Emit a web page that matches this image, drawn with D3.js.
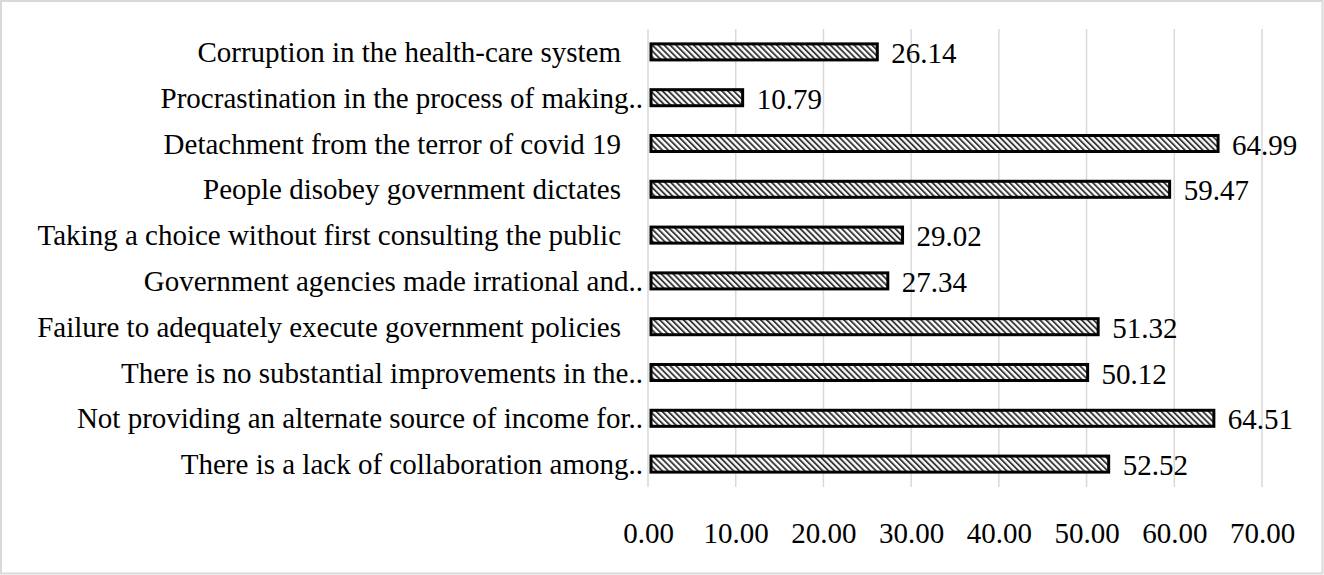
<!DOCTYPE html>
<html>
<head>
<meta charset="utf-8">
<script src="https://cdn.jsdelivr.net/npm/d3@7"></script>
<style>
  html, body { margin: 0; padding: 0; background: #fff; }
  svg text { font-family: "Liberation Serif", "Times New Roman", serif; fill: #000; }
</style>
</head>
<body>
<div id="chart"></div>
<script>
const width = 1324, height = 575;

// categories, top to bottom
const categories = [
    'Corruption in the health-care system',
    'Procrastination in the process of making..',
    'Detachment from the terror of covid 19',
    'People disobey government dictates',
    'Taking a choice without first consulting the public',
    'Government agencies made irrational and..',
    'Failure to adequately execute government policies',
    'There is no substantial improvements in the..',
    'Not providing an alternate source of income for..',
    'There is a lack of collaboration among..'
];
const values = [26.14, 10.79, 64.99, 59.47, 29.02, 27.34, 51.32, 50.12, 64.51, 52.52];
const xTicks = [0, 10, 20, 30, 40, 50, 60, 70];

const plot = { left: 648, right: 1262, top: 29, bottom: 487 };
const fontSize = 29;

const svg = d3.select('#chart')
    .append('svg')
    .attr('width', width)
    .attr('height', height);

// hatch pattern for the bars
const defs = svg.append('defs');
const pat = defs.append('pattern')
    .attr('id', 'hatch')
    .attr('patternUnits', 'userSpaceOnUse')
    .attr('width', 4.2)
    .attr('height', 4.2)
    .attr('patternTransform', 'rotate(-45)');
pat.append('rect').attr('width', 4.2).attr('height', 4.2).attr('fill', '#fff');
pat.append('rect').attr('width', 1.9).attr('height', 4.2).attr('fill', '#3a3a3a');

// outer border
svg.append('rect')
    .attr('x', 1).attr('y', 1)
    .attr('width', width - 2.5).attr('height', height - 2.5)
    .attr('fill', 'none')
    .attr('stroke', '#d9d9d9')
    .attr('stroke-width', 2);

const x = d3.scaleLinear()
    .domain([0, 70])
    .range([plot.left, plot.right]);

const y = d3.scaleBand()
    .domain(categories)
    .range([plot.top, plot.bottom])
    .paddingInner(0.65)
    .paddingOuter(0.325);

// gridlines
svg.append('g')
    .selectAll('line')
    .data(xTicks)
    .enter().append('line')
    .attr('x1', d => x(d)).attr('x2', d => x(d))
    .attr('y1', plot.top).attr('y2', plot.bottom)
    .attr('stroke', '#d9d9d9')
    .attr('stroke-width', 1.5);

// x tick labels
const xAxis = d3.axisBottom(x)
    .tickValues(xTicks)
    .tickFormat(d3.format('.2f'))
    .tickSize(0)
    .tickPadding(0);
const gx = svg.append('g')
    .attr('transform', `translate(0, 522)`)
    .call(xAxis);
gx.select('.domain').remove();
gx.selectAll('text')
    .attr('font-size', fontSize)
    .attr('font-family', '"Liberation Serif", serif')
    .attr('fill', '#000');

// category labels
svg.append('g')
    .selectAll('text')
    .data(categories)
    .enter().append('text')
    .attr('x', d => d.endsWith('..') ? plot.left - 5 : plot.left - 27)
    .attr('y', d => y(d) + y.bandwidth() / 2)
    .attr('dy', '0.35em')
    .attr('text-anchor', 'end')
    .attr('font-size', fontSize)
    .text(d => d);

// bars
const bars = categories.map((c, i) => ({ cat: c, value: values[i] }));
svg.append('g')
    .selectAll('rect')
    .data(bars)
    .enter().append('rect')
    .attr('x', x(0) + 3)
    .attr('y', d => y(d.cat))
    .attr('width', d => x(d.value) - x(0) - 3)
    .attr('height', y.bandwidth())
    .attr('fill', 'url(#hatch)')
    .attr('stroke', '#000')
    .attr('stroke-width', 3);

// value labels
svg.append('g')
    .selectAll('text')
    .data(bars)
    .enter().append('text')
    .attr('x', d => x(d.value) + 14)
    .attr('y', d => y(d.cat) + y.bandwidth() / 2 + 1)
    .attr('dy', '0.35em')
    .attr('font-size', fontSize)
    .text(d => d3.format('.2f')(d.value));
</script>
</body>
</html>
